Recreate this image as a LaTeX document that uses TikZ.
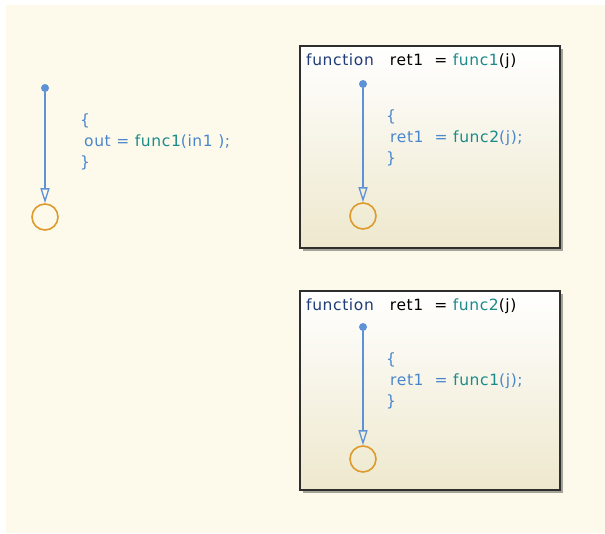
\documentclass[tikz,border=0pt]{standalone}
\usepackage{fontspec}
\usepackage{xcolor}
\usetikzlibrary{arrows.meta,positioning,shadows}
\newfontfamily\chartfont[LetterSpace=4]{DejaVu Sans}
\definecolor{canvas}{HTML}{FEFAEB}
\definecolor{boxfill}{HTML}{EEE8CD}
\definecolor{boxedge}{HTML}{2E2E2E}
\definecolor{kwblue}{HTML}{1F3C78}
\definecolor{fnteal}{HTML}{1A8A8A}
\definecolor{lblblue}{HTML}{4A86CC}
\definecolor{transblue}{HTML}{5E92D6}
\definecolor{juncorange}{HTML}{DC9B2C}
\newcommand{\fn}[1]{\textcolor{fnteal}{#1}}

\begin{document}
\begin{tikzpicture}[x=1pt, y=-1pt,
  font=\chartfont\fontsize{15.5pt}{17pt}\selectfont,
  chartbox/.style={draw=boxedge, line width=1.6pt, shading=axis,
              top color=white, bottom color=boxfill, minimum width=260pt,
              anchor=north west, inner sep=0pt,
              drop shadow={shadow xshift=3pt, shadow yshift=-3pt,
                           opacity=0.35, fill=black}},
  srcdot/.style={circle, fill=transblue, minimum size=8pt, inner sep=0pt},
  junc/.style={circle, draw=juncorange, line width=1.6pt,
              minimum size=26pt, inner sep=0pt},
  trans/.style={-{Triangle[open, length=15pt, width=9pt]},
              line width=1.3pt, draw=transblue},
  lbl/.style={anchor=base west, inner sep=0pt, text=lblblue},
  title/.style={anchor=base west, inner sep=0pt, text=black}]
  \useasboundingbox (0,0) rectangle (605,533);
  \fill[white] (0,0) rectangle (605,533);
  \fill[canvas] (6,5) rectangle (605,533);

  % main chart
  \node[srcdot] (dot0) at (45,88) {};
  \node[junc] (junc0) at (45,217) {};
  \draw[trans] (dot0) -- (junc0);
  \node[lbl] (open0) at (80,125) {\{};
  \node[lbl] (act0) at (84,146) {out = \fn{func1}(in1 );};
  \node[lbl] (close0) at (80,167) {\}};

  % graphical function func1
  \node[chartbox, minimum height=202pt] (fbox1) at (299,45) {};
  \node[title] (head1) at (306,65)
    {\textcolor{kwblue}{function}\hspace{16pt}ret1\ \ = \fn{func1}(j)};
  \node[srcdot] (dot1) at (363,84) {};
  \node[junc] (junc1) at (363,216) {};
  \draw[trans] (dot1) -- (junc1);
  \node[lbl] (open1) at (386,121) {\{};
  \node[lbl] (act1) at (390,142) {ret1\ \ = \fn{func2}(j);};
  \node[lbl] (close1) at (386,163) {\}};

  % graphical function func2
  \node[chartbox, minimum height=199pt] (fbox2) at (299,290) {};
  \node[title] (head2) at (306,310)
    {\textcolor{kwblue}{function}\hspace{16pt}ret1\ \ = \fn{func2}(j)};
  \node[srcdot] (dot2) at (363,327) {};
  \node[junc] (junc2) at (363,459) {};
  \draw[trans] (dot2) -- (junc2);
  \node[lbl] (open2) at (386,364) {\{};
  \node[lbl] (act2) at (390,385) {ret1\ \ = \fn{func1}(j);};
  \node[lbl] (close2) at (386,406) {\}};
\end{tikzpicture}
\end{document}
